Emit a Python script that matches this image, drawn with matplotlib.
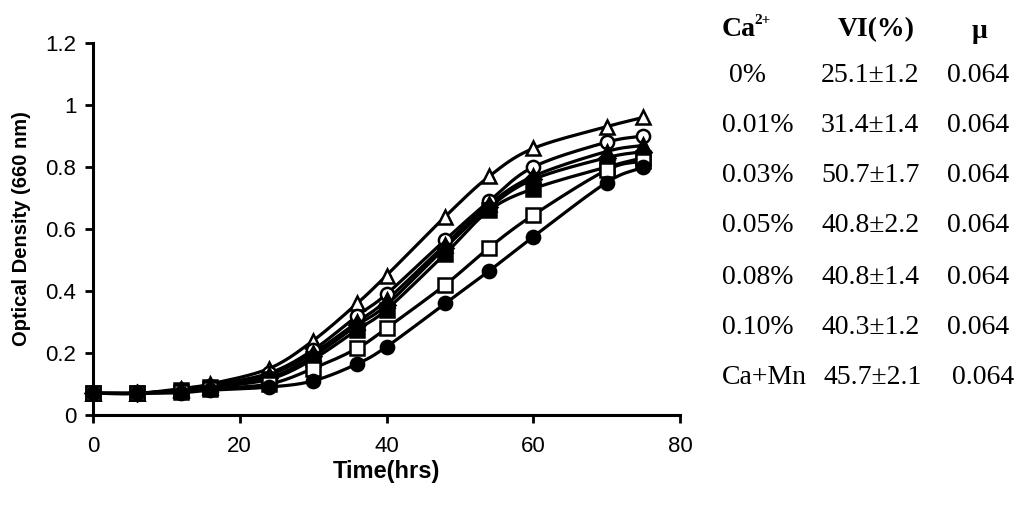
import numpy as np
import matplotlib.pyplot as plt

# growth curves: sampling times and optical density per Ca2+ condition
hours = [0, 6, 12, 16, 24, 30, 36, 40, 48, 54, 60, 70, 75]

od_open_tri = [0.07, 0.07, 0.085, 0.10, 0.15, 0.24, 0.36, 0.45, 0.64, 0.77, 0.86, 0.93, 0.96]
od_open_circ = [0.07, 0.07, 0.08, 0.095, 0.135, 0.21, 0.32, 0.39, 0.565, 0.69, 0.80, 0.88, 0.90]
od_fill_tri = [0.07, 0.07, 0.08, 0.09, 0.13, 0.20, 0.30, 0.37, 0.55, 0.68, 0.77, 0.85, 0.87]
od_fill_dia = [0.07, 0.07, 0.08, 0.09, 0.12, 0.19, 0.29, 0.355, 0.54, 0.67, 0.76, 0.83, 0.85]
od_fill_sq = [0.07, 0.07, 0.08, 0.09, 0.115, 0.18, 0.275, 0.34, 0.52, 0.66, 0.73, 0.80, 0.83]
od_open_sq = [0.07, 0.07, 0.075, 0.085, 0.10, 0.15, 0.215, 0.28, 0.42, 0.54, 0.645, 0.79, 0.82]
od_fill_circ = [0.07, 0.07, 0.072, 0.08, 0.09, 0.11, 0.165, 0.22, 0.36, 0.465, 0.575, 0.75, 0.80]

# side table
ca_levels = ["0%", "0.01%", "0.03%", "0.05%", "0.08%", "0.10%", "Ca+Mn"]
vi_values = ["25.1\u00b11.2", "31.4\u00b11.4", "50.7\u00b11.7", "40.8\u00b12.2",
             "40.8\u00b11.4", "40.3\u00b11.2", "45.7\u00b12.1"]
mu_values = ["0.064"] * 7

series = [
    (od_open_tri, "^", "white"),
    (od_open_circ, "o", "white"),
    (od_fill_tri, "^", "black"),
    (od_fill_dia, "D", "black"),
    (od_fill_sq, "s", "black"),
    (od_open_sq, "s", "white"),
    (od_fill_circ, "o", "black"),
]


def smooth(x, y, n=20):
    # Catmull-Rom spline through the points (Excel style smoothed line)
    p = np.column_stack([x, y]).astype(float)
    p = np.vstack([2 * p[0] - p[1], p, 2 * p[-1] - p[-2]])
    t = np.linspace(0, 1, n, endpoint=False)[:, None]
    out = []
    for i in range(1, len(p) - 2):
        p0, p1, p2, p3 = p[i - 1], p[i], p[i + 1], p[i + 2]
        seg = 0.5 * ((2 * p1) + (-p0 + p2) * t
                     + (2 * p0 - 5 * p1 + 4 * p2 - p3) * t ** 2
                     + (-p0 + 3 * p1 - 3 * p2 + p3) * t ** 3)
        out.append(seg)
    out.append(p[-2][None, :])
    out = np.vstack(out)
    return out[:, 0], out[:, 1]


W, H = 1019, 505
fig = plt.figure(figsize=(W / 100, H / 100), dpi=100)
ax = fig.add_axes([93 / W, 1 - 415 / H, (680 - 93) / W, (415 - 43) / H])

for vals, mk, fc in series:
    sx, sy = smooth(hours, vals)
    ax.plot(sx, sy, color="black", lw=2.3, zorder=2, clip_on=False)
for vals, mk, fc in series:
    ms = 8.5 if mk == "D" else 9.5
    ax.plot(hours, vals, ls="none", marker=mk, ms=ms, mfc=fc, mec="black",
            mew=1.8, zorder=3, clip_on=False)

ax.set_xlim(0, 80)
ax.set_ylim(0, 1.2)
ax.set_xticks([0, 20, 40, 60, 80])
ax.set_yticks([0, 0.2, 0.4, 0.6, 0.8, 1.0, 1.2])
ax.set_yticklabels(["0", "0.2", "0.4", "0.6", "0.8", "1", "1.2"])
for s in ["top", "right"]:
    ax.spines[s].set_visible(False)
for s in ["left", "bottom"]:
    ax.spines[s].set_linewidth(2.2)
ax.tick_params(direction="out", length=6, width=2, labelsize=16)
ax.tick_params(axis="x", pad=9)
ax.tick_params(axis="y", pad=6)
for lab in ax.get_xticklabels() + ax.get_yticklabels():
    lab.set_fontfamily("Liberation Sans")

ax.set_xlabel("Time(hrs)", fontsize=17, fontweight="bold",
              family="Liberation Sans", labelpad=2)
ax.set_ylabel("Optical Density (660 nm)", fontsize=14.5, fontweight="bold",
              family="Liberation Sans", labelpad=10)

# table to the right of the plot
serif = "Liberation Serif"
fs = 20


def put(px, py, s, **kw):
    fig.text(px / W, 1 - py / H, s, family=serif, fontsize=fs,
             va="center", ha="left", **kw)


put(722, 30, "Ca", fontweight="bold")
fig.text(754 / W, 1 - 21 / H, "2+", family=serif, fontsize=11,
         fontweight="bold", va="center", ha="left")
put(838, 30, "VI(%)", fontweight="bold")
put(972, 31, "\u03bc", fontweight="bold")

row_y = [75, 125, 175, 226, 277, 327, 377]
for i, (c, v, m) in enumerate(zip(ca_levels, vi_values, mu_values)):
    cx = 729 if c == "0%" else 722
    vx = 824 if c == "Ca+Mn" else 821
    mx = 952 if c == "Ca+Mn" else 947
    put(cx, row_y[i], c)
    put(vx, row_y[i], v)
    put(mx, row_y[i], m)

fig.savefig("out.png", dpi=100)
